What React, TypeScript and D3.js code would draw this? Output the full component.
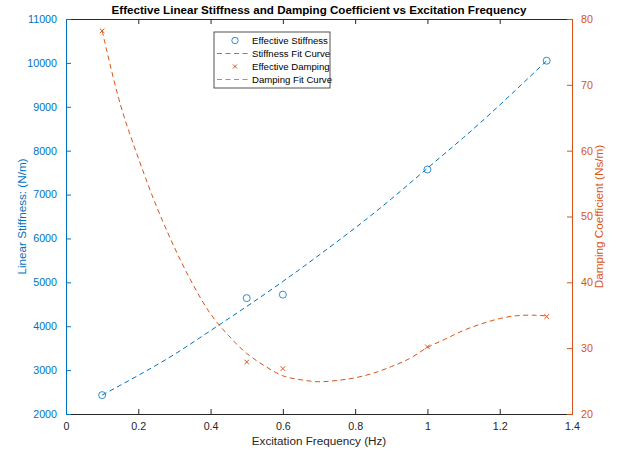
import { useEffect, useRef } from "react";
import * as d3 from "d3";

// measured points
const freqs = [0.1, 0.5, 0.6, 1.0, 1.33];
const stiffness = [2430, 4640, 4720, 7570, 10050];
const damping = [78.2, 27.9, 26.9, 30.2, 34.8];

// fit curves
const stiffFitX = [0.1, 0.2, 0.3, 0.4, 0.5, 0.6, 0.7, 0.8, 0.9, 1.0, 1.1, 1.2, 1.33];
const stiffFitY = [2430, 2880, 3360, 3900, 4450, 5020, 5620, 6240, 6900, 7600, 8300, 9040, 10050];

const dampFitX = [0.1, 0.15, 0.2, 0.25, 0.3, 0.35, 0.4, 0.45, 0.5, 0.55, 0.6, 0.65, 0.7, 0.75, 0.8, 0.85, 0.9, 0.95, 1.0, 1.05, 1.1, 1.15, 1.2, 1.25, 1.3, 1.33];
const dampFitY = [78.2, 67.1, 58.9, 51.6, 45.3, 39.8, 35.2, 31.9, 29.2, 27.3, 25.8, 25.2, 24.9, 25.1, 25.5, 26.2, 27.2, 28.4, 30.1, 31.4, 32.7, 33.7, 34.5, 34.95, 35.0, 34.9];

const xTicks = [0, 0.2, 0.4, 0.6, 0.8, 1, 1.2, 1.4];
const leftTicks = [2000, 3000, 4000, 5000, 6000, 7000, 8000, 9000, 10000, 11000];
const rightTicks = [20, 30, 40, 50, 60, 70, 80];

const legendLabels = ["Effective Stiffness", "Stiffness Fit Curve", "Effective Damping", "Damping Fit Curve"];

const BLUE = "#0072BD";
const ORANGE = "#D95319";
const DARK = "#262626";
const FONT = "'Liberation Sans', Arial, Helvetica, sans-serif";

export default function App() {
  const ref = useRef<SVGGElement>(null);

  const width = 627, height = 452;
  const margin = { top: 19, right: 55, bottom: 38, left: 66 };
  const w = width - margin.left - margin.right;
  const h = height - margin.top - margin.bottom;

  useEffect(() => {
    const g = d3.select(ref.current);

    const x = d3.scaleLinear().domain([0, 1.4]).range([0, w]);
    const yL = d3.scaleLinear().domain([2000, 11000]).range([h, 0]);
    const yR = d3.scaleLinear().domain([20, 80]).range([h, 0]);

    // top and bottom axes
    const xb = g.append("g").attr("transform", `translate(0,${h})`)
      .call(d3.axisBottom(x).tickValues(xTicks).tickSize(-5).tickPadding(8).tickFormat(d => String(d)));
    const xt = g.append("g").call(d3.axisTop(x).tickValues(xTicks).tickSize(-5).tickFormat(() => ""));
    [xb, xt].forEach(a => {
      a.select(".domain").attr("stroke", DARK).attr("stroke-width", 1);
      a.selectAll(".tick line").attr("stroke", DARK);
      a.selectAll("text").attr("fill", DARK).style("font-family", FONT).style("font-size", "10.7px");
    });

    const yl = g.append("g")
      .call(d3.axisLeft(yL).tickValues(leftTicks).tickSize(-5).tickPadding(9).tickFormat(d => String(d)));
    yl.select(".domain").attr("stroke", BLUE);
    yl.selectAll(".tick line").attr("stroke", BLUE);
    yl.selectAll("text").attr("fill", BLUE).style("font-family", FONT).style("font-size", "10.7px");

    const yr = g.append("g").attr("transform", `translate(${w},0)`)
      .call(d3.axisRight(yR).tickValues(rightTicks).tickSize(-5).tickPadding(9).tickFormat(d => String(d)));
    yr.select(".domain").attr("stroke", ORANGE);
    yr.selectAll(".tick line").attr("stroke", ORANGE);
    yr.selectAll("text").attr("fill", ORANGE).style("font-family", FONT).style("font-size", "10.7px");

    // fit curves
    const stiffLine = d3.line<number>()
      .x((_, i) => x(stiffFitX[i]))
      .y(d => yL(d))
      .curve(d3.curveNatural);
    g.append("path")
      .attr("d", stiffLine(stiffFitY))
      .attr("fill", "none").attr("stroke", BLUE).attr("stroke-width", 1)
      .attr("stroke-dasharray", "5,3.5");

    const dampLine = d3.line<number>()
      .x((_, i) => x(dampFitX[i]))
      .y(d => yR(d))
      .curve(d3.curveCatmullRom);
    g.append("path")
      .attr("d", dampLine(dampFitY))
      .attr("fill", "none").attr("stroke", ORANGE).attr("stroke-width", 1)
      .attr("stroke-dasharray", "5,3.5");

    // markers
    g.append("g").selectAll("circle")
      .data(stiffness)
      .join("circle")
      .attr("cx", (_, i) => x(freqs[i]))
      .attr("cy", d => yL(d))
      .attr("r", 3.5)
      .attr("fill", "none").attr("stroke", BLUE).attr("stroke-width", 0.8);

    const cross = (s: number) => `M${-s},${-s}L${s},${s}M${-s},${s}L${s},${-s}`;
    g.append("g").selectAll("path")
      .data(damping)
      .join("path")
      .attr("transform", (d, i) => `translate(${x(freqs[i])},${yR(d)})`)
      .attr("d", cross(2.3))
      .attr("fill", "none").attr("stroke", ORANGE).attr("stroke-width", 1);

    // legend
    const lg = g.append("g").attr("transform", `translate(${214 - margin.left},${32 - margin.top})`);
    lg.append("rect").attr("width", 116).attr("height", 56)
      .attr("fill", "white").attr("stroke", DARK).attr("stroke-width", 0.8);
    legendLabels.forEach((lab, i) => {
      const cy = 8.5 + i * 13;
      const col = i < 2 ? BLUE : ORANGE;
      if (i === 0) {
        lg.append("circle").attr("cx", 21).attr("cy", cy).attr("r", 3.2)
          .attr("fill", "none").attr("stroke", col).attr("stroke-width", 0.8);
      } else if (i === 2) {
        lg.append("path").attr("transform", `translate(21,${cy})`).attr("d", cross(2))
          .attr("fill", "none").attr("stroke", col);
      } else {
        lg.append("line").attr("x1", 3).attr("x2", 37).attr("y1", cy).attr("y2", cy)
          .attr("stroke", col).attr("stroke-opacity", 0.75).attr("stroke-dasharray", "5,3.5");
      }
      lg.append("text").attr("x", 38).attr("y", cy).attr("dy", "0.35em")
        .attr("fill", "black").style("font-family", FONT).style("font-size", "9.6px").text(lab);
    });

    return () => { g.selectAll("*").remove(); };
  }, []);

  return (
    <svg width={width} height={height} style={{ position: "absolute", left: 0, top: 0, background: "white" }}>
      <text x={margin.left + w / 2} y={14} textAnchor="middle" fontWeight="bold" fontSize={11.6}
        fontFamily={FONT} fill="black">
        Effective Linear Stiffness and Damping Coefficient vs Excitation Frequency
      </text>
      <text x={margin.left + w / 2} y={445} textAnchor="middle" fontSize={11.7} fontFamily={FONT} fill={DARK}>
        Excitation Frequency (Hz)
      </text>
      <text transform={`translate(26,${margin.top + h / 2}) rotate(-90)`} textAnchor="middle" fontSize={11.7}
        fontFamily={FONT} fill={BLUE}>
        Linear Stiffness: (N/m)
      </text>
      <text transform={`translate(603,${margin.top + h / 2}) rotate(-90)`} textAnchor="middle" fontSize={11.7}
        fontFamily={FONT} fill={ORANGE}>
        Damping Coefficient (Ns/m)
      </text>
      <g ref={ref} transform={`translate(${margin.left},${margin.top})`}></g>
    </svg>
  );
}
